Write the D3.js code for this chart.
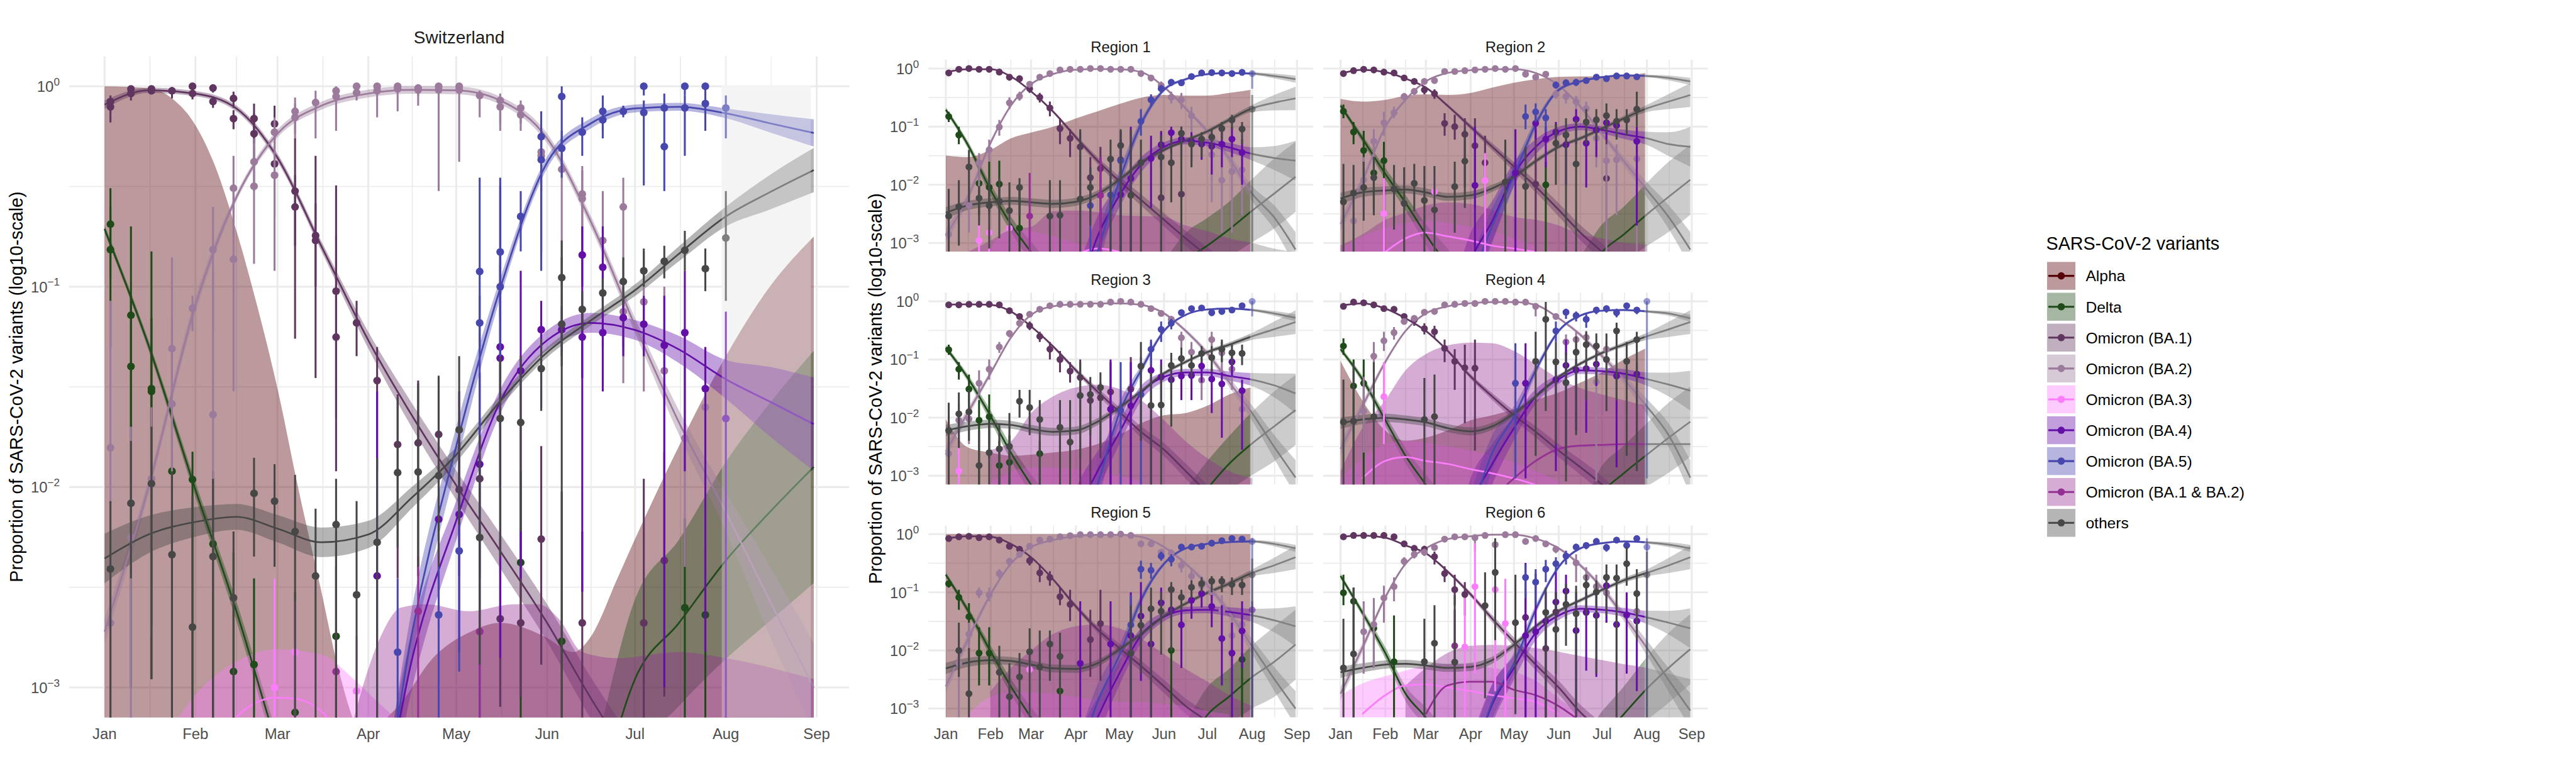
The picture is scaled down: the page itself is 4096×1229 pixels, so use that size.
<!DOCTYPE html>
<html><head><meta charset="utf-8">
<script src="https://cdn.jsdelivr.net/npm/d3@7"></script>
<style>body{margin:0;background:#fff}svg{display:block}text{font-family:"Liberation Sans",Arial,Helvetica,sans-serif}</style>
</head><body>
<script>
// ---------------- categories / axes ----------------
const variants = ["Alpha","Delta","Omicron (BA.1)","Omicron (BA.2)","Omicron (BA.3)","Omicron (BA.4)","Omicron (BA.5)","Omicron (BA.1 & BA.2)","others"];
const variantKeys = ["alpha","delta","ba1","ba2","ba3","ba4","ba5","ba12","others"];
const variantColors = ["#580008","#1f4a1a","#603660","#9c7a9c","#fb7dfb","#6410a8","#4747ae","#943094","#474747"];
const futureColor = "#808080";
const panelIds = ["CH","R1","R2","R3","R4","R5","R6"];
const panelTitles = ["Switzerland","Region 1","Region 2","Region 3","Region 4","Region 5","Region 6"];
const xTickDays = [0,31,59,90,120,151,181,212,243];
const xTickLabels = ["Jan","Feb","Mar","Apr","May","Jun","Jul","Aug","Sep"];
const xMinorDays = [15.5,45,74.5,105,135.5,166,196.5,227.5];
const yTickExps = [0,-1,-2,-3];
const yTickLabels = ["0","\u22121","\u22122","\u22123"];
const yMinorExps = [-0.5,-1.5,-2.5];
const fitDays = [0,15,31,45,59,74,90,105,120,135,151,166,181,196,212,227,242];
const firstWeekDay = 2;   // week index 0 = 3 Jan 2022
const futureDays = [210.6,241];
const yAxisTitle = "Proportion of SARS-CoV-2 variants (log10-scale)";
const legendTitle = "SARS-CoV-2 variants";

// ---------------- Switzerland ----------------
const fit_CH_ba1 = [0.81,0.955,0.919,0.775,0.44,0.159,0.054,0.0226,0.0102,0.0048,0.0021,0.00088,0.0004,0.00018,0.00008,0.00004,0.00002];
const fit_CH_ba2 = [0.0019,0.010,0.081,0.28,0.58,0.80,0.92,0.96,0.955,0.85,0.55,0.21,0.064,0.021,0.0075,0.0027,0.001];
const fit_CH_ba5 = [0.00001,0.00001,0.00001,0.00001,0.00001,0.00001,0.00008,0.0019,0.016,0.098,0.416,0.654,0.775,0.79,0.733,0.654,0.585];
const fit_CH_ba4 = [0.00001,0.00001,0.00001,0.00001,0.00001,0.00001,0.0001,0.0014,0.0068,0.0267,0.054,0.066,0.0608,0.0486,0.0345,0.0267,0.0206];
const fit_CH_others = [0.0044,0.0058,0.0067,0.0071,0.0062,0.0053,0.0058,0.0089,0.0145,0.0268,0.047,0.068,0.096,0.146,0.224,0.296,0.382];
const fit_CH_delta = [0.194,0.051,0.0097,0.0024,0.0005,0.0001,0.00003,0.00003,0.00003,0.00003,0.00003,0.0002,0.0011,0.0021,0.0043,0.0075,0.0126];
const band_CH_ba1 = [1.05,1.03,1.03,1.035,1.046,1.058,1.1,1.15,1.185,1.22,1.24,1.27,1.3,1.3,1.3,1.3,1.3];
const band_CH_ba2 = [1.15,1.09,1.09,1.046,1.046,1.046,1.046,1.046,1.046,1.046,1.058,1.07,1.09,1.15,1.25,1.49,1.66];
const band_CH_ba5 = [1.3,1.3,1.3,1.3,1.3,1.3,1.33,1.33,1.25,1.12,1.07,1.06,1.046,1.046,1.058,1.11,1.17];
const band_CH_ba4 = [1.4,1.4,1.4,1.4,1.4,1.4,1.4,1.4,1.25,1.15,1.12,1.12,1.12,1.17,1.25,1.49,1.71];
const band_CH_others = [1.33,1.24,1.185,1.16,1.17,1.185,1.17,1.13,1.09,1.07,1.06,1.06,1.07,1.09,1.12,1.22,1.29];
const band_CH_delta = [1.046,1.058,1.09,1.12,1.15,1.2,1.5,2,2,2,2,2,2.5,2.6,3.1,3.5,3.8];
const rib_CH_alpha = [[0,1.0],[15,0.98],[23,0.87],[31,0.64],[38,0.39],[45,0.19],[52,0.081],[59,0.031],[66,0.010],[74,0.003],[80,0.0012],[88,0.0006],[100,0.0008],[112,0.0014],[125,0.0019],[135,0.0021],[150,0.0018],[160,0.0015],[166,0.0018],[175,0.0035],[181,0.0055],[196,0.016],[212,0.045],[227,0.10],[242,0.178]];
const rib_CH_ba3 = [[22,0.0006],[31,0.00092],[45,0.00135],[59,0.00155],[74,0.00146],[85,0.0011],[95,0.0008],[105,0.0006]];
const rib_CH_ba12 = [[80,0.0005],[85,0.0007],[88,0.001],[95,0.0019],[101,0.0025],[110,0.0026],[124,0.0024],[140,0.0026],[148,0.0026],[155,0.0022],[163,0.0015],[175,0.0014],[196,0.0015],[212,0.0014],[242,0.0011]];
const line_CH_ba3 = [[40,0.0006],[51,0.00083],[58,0.00089],[65,0.00088],[72,0.0008],[80,0.0006],[90,0.0003]];
const line_CH_ba12 = [];
const pts_CH_ba1 = [[0,0.84,0.74,0.90],[0,0.79,0.66,0.86],[1,0.97,0.93,1],[1,0.92,0.85,0.96],[2,0.97,0.94,1],[2,0.95,0.92,0.98],[3,0.95,0.87,0.99],[4,1,0.93,1],[4,0.92,0.86,0.96],[5,0.98,0.93,1],[5,0.84,0.78,0.89],[6,0.87,0.78,0.94],[6,0.69,0.61,0.76],[7,0.69,0.52,0.82],[7,0.58,0.4,0.73],[8,0.65,0.45,0.8],[8,0.41,0.22,0.6],[9,0.3,0.055,0.55],[9,0.25,0.16,0.36],[10,0.18,0.035,0.45],[10,0.17,0.1,0.26],[11,0.095,0.022,0.32],[11,0.056,0.012,0.18],[12,0.066,0.045,0.085],[13,0.034,0.012,0.05],[14,0.0163,0.0035,0.029],[15,0.0166,0.0036,0.034],[16,0.0183,0.0023,0.035],[17,0.0097,0.0036,0.02],[18,0.011,0.003,0.018],[19,0.0022,0.0008,0.0055],[20,0.0021,0.0009,0.006],[21,0.0055,0.0013,0.016],[23,0.0021,0.0007,0.006],[26,0.0021,0.0007,0.011],[27,0.0043,0.0009,0.015]];
const pts_CH_ba2 = [[0,0.0157,0.0006,0.085],[0,0.0021,0.0006,0.0045],[1,0.0056,0.0007,0.02],[2,0.011,0.0018,0.025],[3,0.049,0.008,0.14],[3,0.026,0.004,0.07],[4,0.078,0.06,0.09],[5,0.153,0.06,0.25],[5,0.023,0.003,0.12],[6,0.31,0.18,0.45],[6,0.137,0.03,0.3],[7,0.42,0.3,0.55],[7,0.317,0.13,0.5],[8,0.59,0.5,0.7],[8,0.36,0.12,0.55],[9,0.75,0.58,0.88],[9,0.70,0.55,0.82],[10,0.83,0.55,0.95],[11,0.95,0.9,1],[11,0.89,0.6,0.97],[12,1,0.95,1],[12,0.93,0.85,0.98],[13,1,0.95,1],[13,0.95,0.7,0.99],[14,1,0.97,1],[14,0.97,0.75,1],[15,0.98,0.9,1],[15,0.96,0.8,0.99],[16,1,0.97,1],[16,0.96,0.3,1],[17,1,0.96,1],[17,0.96,0.42,1],[18,0.9,0.7,0.95],[19,0.85,0.65,0.92],[19,0.79,0.6,0.88],[20,0.78,0.65,0.85],[20,0.72,0.6,0.8],[21,0.47,0.14,0.6],[21,0.45,0.15,0.6],[22,0.385,0.1,0.55],[23,0.29,0.1,0.4],[23,0.275,0.1,0.38],[24,0.17,0.08,0.3],[25,0.25,0.033,0.35],[25,0.075,0.05,0.1],[26,0.084,0.03,0.15],[27,0.038,0.009,0.1],[28,0.0175,0.004,0.06],[29,0.025,0.01,0.05]];
const pts_CH_ba5 = [[14,0.0015,0.0007,0.0035],[16,0.0023,0.0007,0.005],[17,0.0048,0.0012,0.012],[18,0.119,0.05,0.35],[18,0.066,0.0007,0.09],[19,0.149,0.02,0.35],[19,0.1,0.07,0.13],[20,0.224,0.15,0.3],[21,0.56,0.12,0.75],[21,0.43,0.3,0.55],[22,0.89,0.5,1],[22,0.49,0.35,0.6],[23,0.59,0.45,0.7],[24,0.75,0.55,0.9],[24,0.68,0.6,0.75],[25,0.75,0.7,0.8],[26,1,0.9,1],[26,0.74,0.32,0.85],[27,0.78,0.6,0.92],[27,0.5,0.3,0.6],[28,1,0.9,1],[28,0.78,0.45,0.9],[29,1,0.9,1],[29,0.82,0.6,0.92],[30,0.78,0.55,0.9]];
const pts_CH_ba4 = [[13,0.0036,0.0007,0.03],[16,0.0069,0.002,0.035],[17,0.0073,0.0015,0.03],[18,0.013,0.0035,0.037],[19,0.05,0.0014,0.32],[19,0.044,0.01,0.15],[20,0.038,0.0035,0.12],[21,0.061,0.025,0.085],[22,0.061,0.045,0.08],[23,0.144,0.003,0.2],[23,0.056,0.035,0.08],[24,0.125,0.05,0.2],[24,0.059,0.03,0.12],[25,0.07,0.045,0.09],[26,0.065,0.045,0.09],[27,0.051,0.001,0.09],[28,0.059,0.012,0.12],[29,0.031,0.0015,0.05],[30,0.022,0.0007,0.075]];
const pts_CH_others = [[0,0.0039,0.0007,0.0085],[1,0.0083,0.0035,0.017],[2,0.0104,0.0011,0.02],[3,0.0046,0.0007,0.012],[4,0.002,0.0007,0.009],[5,0.0045,0.0007,0.011],[6,0.0028,0.0007,0.006],[7,0.0093,0.0045,0.014],[8,0.0085,0.004,0.013],[9,0.006,0.0007,0.0115],[10,0.0036,0.0007,0.0078],[11,0.0065,0.0007,0.011],[12,0.0029,0.0007,0.0085],[13,0.0053,0.0007,0.014],[14,0.0118,0.005,0.028],[15,0.0119,0.004,0.033],[16,0.0114,0.004,0.036],[17,0.0193,0.0065,0.045],[18,0.0056,0.0013,0.018],[19,0.022,0.0045,0.045],[20,0.021,0.006,0.045],[21,0.039,0.024,0.055],[22,0.111,0.04,0.17],[22,0.065,0.0007,0.14],[23,0.077,0.06,0.095],[24,0.093,0.075,0.11],[25,0.106,0.08,0.14],[26,0.12,0.1,0.155],[27,0.134,0.11,0.16],[28,0.152,0.12,0.19],[29,0.123,0.095,0.155],[30,0.175,0.085,0.3]];
const pts_CH_delta = [[0,0.205,0.11,0.31],[0,0.153,0.05,0.25],[1,0.072,0.02,0.2],[1,0.04,0.001,0.09],[2,0.031,0.0011,0.15],[2,0.03,0.002,0.07],[3,0.012,0.0007,0.05],[4,0.0109,0.0007,0.015],[5,0.0052,0.0007,0.012],[6,0.0012,0.0007,0.0047],[7,0.0013,0.0007,0.0035],[9,0.00075,0.0007,0.003],[11,0.0018,0.0007,0.004],[20,0.0042,0.0007,0.012],[22,0.0017,0.0007,0.0095],[28,0.0025,0.0007,0.007],[29,0.0023,0.0007,0.005]];
const pts_CH_ba3 = [[8,0.001,0.0007,0.0035],[9,0.0015,0.0007,0.0027],[12,0.00096,0.0007,0.0018]];
const pts_CH_ba12 = [[11,0.0012,0.0007,0.006],[15,0.0024,0.0007,0.0045],[18,0.0019,0.0007,0.003]];

// ---------------- shared regional band widths (multiplicative) ----------------
const band_REG_ba1 = [1.03,1.02,1.02,1.03,1.04,1.06,1.1,1.15,1.2,1.25,1.3,1.35,1.4,1.45,1.5,1.5,1.5];
const band_REG_ba2 = [1.3,1.2,1.1,1.05,1.03,1.02,1.02,1.02,1.02,1.03,1.05,1.08,1.12,1.2,1.35,1.6,2];
const band_REG_ba5 = [3,3,3,3,3,3,2.5,2,1.5,1.2,1.08,1.05,1.04,1.04,1.05,1.1,1.15];
const band_REG_ba4 = [3,3,3,3,3,3,3,2.2,1.6,1.35,1.2,1.15,1.15,1.2,1.3,1.6,2.2];
const band_REG_others = [1.25,1.2,1.18,1.17,1.17,1.17,1.17,1.15,1.12,1.1,1.08,1.08,1.08,1.1,1.15,1.35,1.6];
const band_REG_delta = [1.1,1.15,1.25,1.35,1.5,2,2,2,2,2,2.5,3,3,3,3.5,4,4];

// ---------------- Region 1 ----------------
const fit_R1_ba1 = [0.87,0.97,0.97,0.73,0.405,0.184,0.066,0.026,0.0116,0.0055,0.0025,0.0012,0.0006,0.0003,0.00015,0.0001,0.00007];
const fit_R1_ba2 = [0.00135,0.0059,0.053,0.23,0.54,0.80,0.955,0.98,0.97,0.87,0.48,0.206,0.083,0.0285,0.0070,0.0028,0.00077];
const fit_R1_ba5 = [0.00001,0.00001,0.00001,0.00001,0.00001,0.00001,0.00004,0.0007,0.0116,0.11,0.43,0.655,0.80,0.835,0.82,0.745,0.655];
const fit_R1_ba4 = [0.00001,0.00001,0.00001,0.00001,0.00001,0.00001,0.0001,0.0013,0.0065,0.022,0.045,0.057,0.053,0.044,0.034,0.029,0.026];
const fit_R1_others = [0.0033,0.0044,0.0050,0.0053,0.005,0.0047,0.0051,0.0069,0.0122,0.024,0.040,0.058,0.083,0.131,0.206,0.258,0.306];
const fit_R1_delta = [0.195,0.05,0.0082,0.0021,0.00069,0.0002,0.0001,0.0001,0.0001,0.0001,0.0002,0.0005,0.0009,0.0017,0.0036,0.007,0.0137];
const rib_R1_alpha = [[0,0.032],[15,0.030],[31,0.040],[45,0.063],[59,0.079],[74,0.099],[90,0.139],[105,0.184],[120,0.244],[135,0.314],[151,0.35],[166,0.342],[181,0.342],[196,0.38],[211,0.43]];
const rib_R1_ba12 = [[15,0.0007],[31,0.0011],[45,0.0017],[59,0.0019],[74,0.0035],[90,0.0036],[105,0.0034],[120,0.003],[135,0.0029],[151,0.0028],[166,0.002],[181,0.0016],[196,0.0012],[212,0.001],[227,0.0008],[242,0.0007]];
const rib_R1_ba3 = [[31,0.0008],[45,0.0018],[59,0.0016],[74,0.0013],[90,0.001],[105,0.0008],[120,0.0007]];
const line_R1_ba3 = [[85,0.0005],[95,0.0007],[105,0.0008],[120,0.0007],[135,0.0005]];
const line_R1_ba12 = [];
const pts_R1_ba1 = [[0,0.84,0.78,0.9],[1,0.97,0.92,1],[2,1,0.95,1],[3,0.97,0.92,1],[4,0.97,0.92,1],[5,0.87,0.8,0.93],[6,0.71,0.62,0.8],[7,0.67,0.58,0.76],[8,0.45,0.38,0.52],[9,0.32,0.26,0.38],[10,0.21,0.15,0.27],[11,0.093,0.05,0.14],[12,0.063,0.03,0.09],[13,0.045,0.0007,0.08],[14,0.0133,0.004,0.03],[15,0.019,0.0007,0.045],[17,0.027,0.005,0.085],[21,0.006,0.0007,0.085],[23,0.0069,0.0007,0.05]];
const pts_R1_ba2 = [[0,0.0014,0.0007,0.0035],[2,0.0045,0.0015,0.012],[3,0.024,0.008,0.035],[4,0.04,0.025,0.06],[5,0.099,0.07,0.13],[6,0.258,0.2,0.32],[7,0.333,0.28,0.4],[8,0.537,0.47,0.6],[9,0.71,0.65,0.78],[10,0.82,0.76,0.88],[11,0.945,0.9,1],[12,0.97,0.93,1],[13,0.97,0.93,1],[14,1,0.95,1],[15,1,0.95,1],[16,0.97,0.93,1],[17,0.97,0.93,1],[18,0.97,0.93,1],[19,0.82,0.75,0.9],[20,0.69,0.6,0.78],[21,0.51,0.42,0.6],[22,0.32,0.25,0.4],[23,0.29,0.2,0.38],[24,0.155,0.07,0.22],[26,0.033,0.005,0.06],[27,0.012,0.0015,0.03],[28,0.017,0.0015,0.03],[29,0.018,0.003,0.03]];
const pts_R1_ba5 = [[14,0.0044,0.0007,0.02],[16,0.0067,0.0007,0.03],[17,0.026,0.0007,0.06],[19,0.124,0.07,0.2],[20,0.29,0.22,0.36],[21,0.45,0.38,0.52],[22,0.58,0.5,0.65],[23,0.57,0.5,0.64],[24,0.73,0.65,0.8],[25,0.84,0.78,0.9],[26,0.85,0.8,0.9],[27,0.84,0.78,0.9],[28,0.82,0.76,0.88],[29,0.86,0.8,0.92],[30,0.82,0.45,0.9]];
const pts_R1_ba4 = [[15,0.0066,0.0007,0.03],[17,0.0068,0.0007,0.06],[18,0.0129,0.0007,0.1],[20,0.0285,0.004,0.07],[21,0.049,0.02,0.08],[22,0.079,0.035,0.1],[23,0.061,0.03,0.1],[24,0.056,0.025,0.08],[25,0.05,0.027,0.07],[26,0.046,0.015,0.07],[27,0.05,0.02,0.08],[28,0.061,0.03,0.1],[29,0.036,0.01,0.06]];
const pts_R1_others = [[0,0.0029,0.0007,0.0085],[1,0.0042,0.0009,0.012],[2,0.0203,0.005,0.04],[3,0.0059,0.002,0.0095],[4,0.0044,0.0008,0.013],[5,0.0052,0.0012,0.013],[6,0.0036,0.0007,0.011],[7,0.009,0.003,0.013],[10,0.0029,0.0007,0.012],[11,0.003,0.0007,0.012],[13,0.0057,0.0007,0.09],[14,0.009,0.002,0.02],[16,0.0277,0.0007,0.06],[17,0.0475,0.0007,0.09],[18,0.0066,0.0007,0.09],[19,0.024,0.0007,0.06],[21,0.03,0.0007,0.07],[22,0.024,0.005,0.065],[23,0.077,0.0007,0.1],[24,0.05,0.02,0.07],[25,0.061,0.03,0.08],[26,0.066,0.04,0.09],[27,0.093,0.06,0.12],[28,0.131,0.09,0.16],[29,0.091,0.05,0.12],[30,0.2,0.0007,0.35]];
const pts_R1_delta = [[0,0.15,0.12,0.18],[1,0.072,0.05,0.1],[3,0.0106,0.003,0.02],[4,0.0091,0.003,0.025],[5,0.0103,0.004,0.026],[7,0.0018,0.0007,0.009]];
const pts_R1_ba3 = [[3,0.0011,0.0007,0.0023],[4,0.0015,0.0007,0.0035],[6,0.0018,0.0007,0.0035]];
const pts_R1_ba12 = [[8,0.0029,0.0007,0.016],[15,0.0066,0.0007,0.03]];

// ---------------- Region 2 ----------------
const fit_R2_ba1 = [0.82,0.945,0.87,0.67,0.47,0.23,0.099,0.045,0.0205,0.0093,0.0037,0.0015,0.0007,0.0003,0.00015,0.0001,0.00007];
const fit_R2_ba2 = [0.0021,0.0116,0.099,0.29,0.60,0.84,0.935,0.97,0.97,0.84,0.51,0.22,0.074,0.0255,0.0082,0.0028,0.00077];
const fit_R2_ba5 = [0.00001,0.00001,0.00001,0.00001,0.00001,0.00001,0.0002,0.002,0.0144,0.11,0.43,0.60,0.71,0.76,0.745,0.69,0.60];
const fit_R2_ba4 = [0.00001,0.00001,0.00001,0.00001,0.00001,0.00003,0.0005,0.0024,0.0154,0.045,0.083,0.10,0.088,0.074,0.063,0.05,0.045];
const fit_R2_others = [0.0058,0.0074,0.0080,0.0083,0.0074,0.0062,0.0066,0.0087,0.0137,0.0255,0.045,0.063,0.093,0.139,0.206,0.27,0.35];
const fit_R2_delta = [0.23,0.063,0.0154,0.0049,0.0014,0.0004,0.0001,0.0001,0.0001,0.0001,0.0001,0.0002,0.0007,0.0014,0.0031,0.0062,0.0122];
const rib_R2_alpha = [[0,0.30],[15,0.27],[31,0.29],[45,0.34],[59,0.36],[74,0.35],[90,0.38],[105,0.47],[120,0.57],[135,0.655],[151,0.72],[166,0.73],[181,0.73],[196,0.745],[211,0.84]];
const rib_R2_ba12 = [[0,0.0009],[15,0.0014],[31,0.0025],[45,0.0033],[59,0.0044],[74,0.005],[90,0.0047],[105,0.0037],[120,0.0028],[135,0.0025],[151,0.002],[166,0.0014],[181,0.0012],[196,0.001],[212,0.00095]];
const rib_R2_ba3 = [[0,0.0008],[15,0.0013],[31,0.0018],[45,0.0022],[59,0.0024],[74,0.0022],[90,0.0019],[105,0.0016],[120,0.0012],[135,0.0009]];
const line_R2_ba3 = [[31,0.0007],[45,0.0012],[59,0.0015],[74,0.0013],[90,0.0011],[105,0.0009],[120,0.0008],[135,0.0007]];
const line_R2_ba12 = [];
const pts_R2_ba1 = [[0,0.82,0.76,0.88],[1,0.92,0.87,0.97],[2,0.97,0.92,1],[3,0.945,0.9,0.99],[4,0.87,0.82,0.92],[5,0.84,0.79,0.9],[6,0.69,0.63,0.75],[7,0.6,0.53,0.67],[8,0.43,0.36,0.5],[9,0.37,0.3,0.44],[10,0.114,0.07,0.17],[11,0.1,0.06,0.16],[12,0.074,0.009,0.14],[13,0.047,0.004,0.14],[14,0.024,0.0007,0.07],[19,0.0103,0.0007,0.09],[26,0.0129,0.0007,0.085]];
const pts_R2_ba2 = [[1,0.0024,0.0007,0.004],[2,0.0122,0.004,0.03],[3,0.056,0.03,0.09],[4,0.117,0.07,0.18],[5,0.174,0.14,0.22],[6,0.33,0.28,0.38],[7,0.405,0.35,0.46],[8,0.6,0.54,0.66],[9,0.62,0.56,0.7],[10,0.89,0.84,0.95],[11,0.89,0.84,0.95],[12,0.92,0.87,0.97],[13,0.945,0.9,0.99],[14,0.97,0.92,1],[15,1,0.95,1],[16,0.97,0.92,1],[17,1,0.95,1],[18,0.8,0.74,0.86],[19,0.71,0.64,0.78],[20,0.8,0.74,0.86],[21,0.36,0.3,0.43],[22,0.33,0.25,0.4],[23,0.27,0.2,0.34],[24,0.206,0.15,0.27],[25,0.063,0.02,0.1],[26,0.026,0.0007,0.05],[27,0.027,0.003,0.05],[29,0.028,0.0007,0.06]];
const pts_R2_ba5 = [[18,0.15,0.09,0.24],[19,0.18,0.12,0.25],[20,0.142,0.08,0.2],[21,0.52,0.45,0.6],[22,0.57,0.5,0.64],[23,0.58,0.5,0.66],[24,0.62,0.55,0.68],[25,0.71,0.65,0.77],[26,0.67,0.6,0.73],[27,0.745,0.7,0.8],[28,0.745,0.7,0.8],[29,0.72,0.65,0.78]];
const pts_R2_ba4 = [[13,0.0098,0.0007,0.1],[17,0.016,0.0007,0.09],[19,0.114,0.06,0.2],[20,0.061,0.02,0.1],[21,0.081,0.045,0.12],[22,0.049,0.01,0.08],[23,0.134,0.05,0.2],[24,0.052,0.009,0.09],[25,0.088,0.03,0.13],[26,0.117,0.06,0.17],[27,0.105,0.07,0.15],[29,0.056,0.002,0.1]];
const pts_R2_others = [[0,0.0051,0.0007,0.023],[1,0.0072,0.0007,0.022],[2,0.009,0.0024,0.025],[3,0.0133,0.003,0.03],[5,0.0085,0.0017,0.022],[6,0.0048,0.0007,0.02],[7,0.0106,0.0035,0.023],[8,0.0054,0.0007,0.021],[9,0.0037,0.0007,0.021],[11,0.0093,0.0015,0.025],[12,0.0255,0.004,0.09],[16,0.0112,0.0007,0.06],[18,0.0094,0.0007,0.045],[21,0.052,0.01,0.11],[22,0.072,0.0007,0.14],[23,0.0228,0.0007,0.13],[24,0.12,0.05,0.2],[25,0.131,0.06,0.2],[26,0.155,0.08,0.25],[27,0.124,0.06,0.2],[28,0.131,0.07,0.2],[29,0.2,0.1,0.4]];
const pts_R2_delta = [[0,0.184,0.14,0.24],[1,0.081,0.05,0.12],[2,0.039,0.014,0.085],[3,0.016,0.004,0.05],[4,0.026,0.0007,0.055],[20,0.01,0.0007,0.025]];
const pts_R2_ba3 = [[4,0.0032,0.0007,0.013],[9,0.0076,0.0007,0.016],[14,0.0119,0.0007,0.035]];
const pts_R2_ba12 = [];

// ---------------- Region 3 ----------------
const fit_R3_ba1 = [0.87,0.89,0.87,0.67,0.37,0.17,0.065,0.028,0.0126,0.0057,0.0028,0.0012,0.0005,0.0002,0.0001,0.00007,0.00005];
const fit_R3_ba2 = [0.0026,0.0119,0.058,0.237,0.585,0.82,0.89,0.92,0.92,0.87,0.62,0.31,0.127,0.041,0.0119,0.0032,0.00093];
const fit_R3_ba5 = [0.00001,0.00001,0.00001,0.00001,0.00001,0.00001,0.00005,0.0007,0.0119,0.065,0.31,0.585,0.725,0.75,0.71,0.62,0.52];
const fit_R3_ba4 = [0.00001,0.00001,0.00001,0.00001,0.00001,0.00001,0.0002,0.0012,0.0055,0.026,0.05,0.06,0.06,0.052,0.045,0.036,0.026];
const fit_R3_others = [0.006,0.0071,0.0078,0.0075,0.0064,0.0057,0.006,0.0085,0.0149,0.028,0.058,0.091,0.134,0.179,0.25,0.33,0.44];
const fit_R3_delta = [0.16,0.049,0.0106,0.0025,0.0007,0.0002,0.0001,0.0001,0.0001,0.0001,0.0001,0.0002,0.0006,0.0016,0.0036,0.007,0.0135];
const rib_R3_alpha = [[0,0.0093],[15,0.0031],[31,0.0025],[45,0.0022],[59,0.0023],[74,0.0025],[90,0.0028],[105,0.0035],[120,0.005],[135,0.008],[151,0.011],[166,0.012],[181,0.016],[196,0.025],[211,0.033]];
const rib_R3_ba12 = [[31,0.0028],[45,0.0039],[59,0.0119],[74,0.023],[90,0.033],[105,0.037],[120,0.031],[135,0.020],[151,0.009],[166,0.0039],[181,0.002],[196,0.0012],[212,0.0009]];
const rib_R3_ba3 = [[31,0.0008],[59,0.0014],[90,0.0013],[120,0.001],[135,0.0008]];
const line_R3_ba3 = [];
const line_R3_ba12 = [];
const pts_R3_ba1 = [[0,0.87,0.82,0.92],[1,0.87,0.82,0.92],[2,0.89,0.84,0.94],[3,0.89,0.84,0.94],[4,0.89,0.84,0.94],[5,0.87,0.8,0.92],[6,0.69,0.62,0.76],[7,0.55,0.48,0.62],[8,0.38,0.32,0.45],[9,0.25,0.2,0.3],[10,0.15,0.1,0.2],[11,0.1,0.06,0.14],[12,0.063,0.04,0.09],[13,0.049,0.0007,0.1],[14,0.0197,0.0007,0.035],[15,0.022,0.002,0.04],[16,0.0276,0.0007,0.09],[18,0.031,0.0007,0.11]];
const pts_R3_ba2 = [[0,0.0024,0.0007,0.012],[1,0.009,0.003,0.017],[2,0.0095,0.0035,0.016],[3,0.039,0.025,0.065],[4,0.068,0.045,0.1],[5,0.164,0.13,0.2],[6,0.28,0.24,0.32],[7,0.42,0.37,0.47],[8,0.6,0.55,0.66],[9,0.73,0.68,0.78],[10,0.84,0.8,0.88],[11,0.89,0.85,0.93],[12,0.89,0.85,0.93],[13,0.89,0.85,0.93],[14,0.89,0.85,0.93],[15,0.89,0.85,0.93],[16,0.97,0.93,1],[17,1,0.95,1],[18,0.97,0.93,1],[19,0.89,0.85,0.93],[20,0.75,0.7,0.8],[21,0.62,0.55,0.68],[22,0.49,0.42,0.56],[23,0.237,0.15,0.3],[24,0.134,0.08,0.2],[25,0.044,0.02,0.1],[26,0.22,0.12,0.3],[27,0.13,0.06,0.2],[28,0.068,0.03,0.1],[29,0.014,0.003,0.03]];
const pts_R3_ba5 = [[17,0.0133,0.0007,0.09],[19,0.025,0.0007,0.11],[20,0.15,0.08,0.22],[21,0.33,0.2,0.45],[22,0.42,0.33,0.5],[23,0.64,0.58,0.7],[24,0.75,0.7,0.8],[25,0.77,0.72,0.82],[26,0.64,0.56,0.7],[27,0.67,0.6,0.74],[28,0.71,0.65,0.77],[29,0.84,0.78,0.9],[30,1,0.55,1]];
const pts_R3_ba4 = [[16,0.014,0.0007,0.1],[18,0.016,0.0007,0.09],[20,0.065,0.0007,0.2],[21,0.05,0.015,0.1],[22,0.045,0.02,0.065],[23,0.052,0.02,0.07],[24,0.053,0.02,0.08],[25,0.077,0.04,0.11],[26,0.046,0.012,0.07],[27,0.038,0.0045,0.06],[28,0.091,0.05,0.13],[29,0.029,0.0028,0.045]];
const pts_R3_others = [[0,0.006,0.0007,0.018],[1,0.0116,0.003,0.027],[2,0.0126,0.004,0.03],[3,0.0015,0.0007,0.006],[4,0.0025,0.0007,0.008],[5,0.0029,0.0007,0.008],[6,0.0032,0.0007,0.012],[7,0.0191,0.01,0.03],[8,0.0149,0.005,0.03],[9,0.0093,0.0007,0.02],[11,0.0068,0.0007,0.02],[12,0.0038,0.0007,0.02],[13,0.024,0.002,0.09],[14,0.025,0.005,0.05],[15,0.033,0.003,0.06],[19,0.077,0.004,0.2],[20,0.0162,0.0007,0.06],[21,0.0165,0.0007,0.08],[22,0.079,0.007,0.13],[23,0.104,0.06,0.16],[24,0.079,0.05,0.12],[25,0.127,0.09,0.17],[26,0.108,0.06,0.17],[27,0.15,0.09,0.22],[28,0.13,0.08,0.18],[29,0.127,0.08,0.18]];
const pts_R3_delta = [[0,0.147,0.12,0.18],[1,0.068,0.045,0.09],[2,0.031,0.012,0.055],[3,0.009,0.0007,0.02],[4,0.0104,0.002,0.025],[5,0.0015,0.0007,0.004],[6,0.0017,0.0007,0.005],[9,0.0024,0.0007,0.004]];
const pts_R3_ba3 = [[1,0.0012,0.0007,0.005]];
const pts_R3_ba12 = [];

// ---------------- Region 4 ----------------
const fit_R4_ba1 = [0.84,0.92,0.75,0.51,0.31,0.142,0.051,0.023,0.011,0.0057,0.0027,0.0014,0.0007,0.0003,0.00015,0.0001,0.00007];
const fit_R4_ba2 = [0.0029,0.0155,0.091,0.31,0.62,0.82,0.93,0.97,0.97,0.87,0.51,0.265,0.114,0.046,0.0155,0.005,0.00093];
const fit_R4_ba5 = [0.00001,0.00001,0.00001,0.00001,0.00001,0.00001,0.0002,0.0025,0.0104,0.065,0.31,0.57,0.69,0.71,0.67,0.62,0.51];
const fit_R4_ba4 = [0.00001,0.00001,0.00001,0.00001,0.00001,0.00001,0.0003,0.0016,0.0066,0.023,0.046,0.065,0.063,0.057,0.046,0.037,0.029];
const fit_R4_others = [0.008,0.0093,0.0099,0.0093,0.0083,0.0066,0.0058,0.0071,0.0118,0.023,0.05,0.085,0.13,0.18,0.25,0.33,0.44];
const fit_R4_delta = [0.15,0.046,0.009,0.0022,0.0007,0.0002,0.0001,0.0001,0.0001,0.0001,0.0001,0.0001,0.0005,0.0011,0.0023,0.0045,0.0085];
const rib_R4_alpha = [[0,0.094],[15,0.02],[31,0.006],[45,0.004],[59,0.0045],[74,0.006],[90,0.009],[105,0.011],[120,0.014],[135,0.02],[151,0.027],[166,0.04],[181,0.06],[196,0.1],[211,0.155]];
const rib_R4_ba12 = [[0,0.0012],[15,0.0066],[31,0.020],[45,0.065],[59,0.124],[74,0.174],[90,0.195],[105,0.19],[120,0.14],[135,0.083],[151,0.047],[166,0.032],[181,0.025],[196,0.02],[212,0.016]];
const rib_R4_ba3 = [[0,0.0009],[15,0.002],[31,0.0035],[45,0.004],[59,0.0037],[74,0.0032],[90,0.0027],[105,0.0022],[120,0.0017],[135,0.0012],[151,0.0008]];
const line_R4_ba3 = [[15,0.0009],[31,0.0018],[45,0.0021],[59,0.0018],[74,0.0016],[90,0.0013],[105,0.0011],[120,0.0009],[135,0.0007]];
const line_R4_ba12 = [[115,0.0007],[135,0.0018],[151,0.0029],[166,0.0033],[181,0.0034],[196,0.0035],[212,0.0035],[242,0.0035]];
const pts_R4_ba1 = [[0,0.82,0.76,0.88],[1,0.97,0.93,1],[2,0.945,0.9,0.99],[3,0.87,0.82,0.92],[4,0.75,0.69,0.81],[5,0.73,0.66,0.8],[6,0.55,0.48,0.62],[7,0.48,0.38,0.56],[8,0.34,0.27,0.42],[9,0.3,0.23,0.38],[10,0.155,0.09,0.22],[11,0.093,0.03,0.15],[12,0.072,0.008,0.18],[13,0.071,0.0027,0.22]];
const pts_R4_ba2 = [[2,0.0129,0.0025,0.05],[3,0.114,0.06,0.2],[4,0.21,0.14,0.3],[5,0.29,0.22,0.36],[6,0.45,0.4,0.5],[7,0.51,0.45,0.57],[8,0.65,0.6,0.7],[9,0.67,0.62,0.72],[10,0.87,0.83,0.91],[11,0.89,0.85,0.93],[12,0.92,0.88,0.96],[13,0.92,0.8,0.96],[14,1,0.95,1],[15,1,0.95,1],[16,1,0.95,1],[17,0.97,0.93,1],[18,0.97,0.93,1],[19,0.82,0.55,0.88],[21,0.55,0.48,0.62],[22,0.2,0.12,0.27],[23,0.22,0.15,0.3],[24,0.24,0.17,0.31],[25,0.041,0.0008,0.13],[26,0.15,0.07,0.2]];
const pts_R4_ba5 = [[17,0.039,0.0009,0.19],[21,0.31,0.2,0.45],[22,0.65,0.5,0.75],[23,0.57,0.45,0.67],[24,0.49,0.35,0.6],[25,0.71,0.6,0.8],[26,0.75,0.64,0.85],[27,0.64,0.53,0.75],[28,0.84,0.72,0.93],[29,0.71,0.6,0.8],[30,1,0.0009,1]];
const pts_R4_ba4 = [[18,0.039,0.0009,0.19],[21,0.045,0.0012,0.1],[22,0.079,0.0015,0.22],[23,0.066,0.006,0.1],[24,0.07,0.0055,0.1],[25,0.083,0.035,0.13],[27,0.052,0.0014,0.13],[29,0.056,0.0017,0.09]];
const pts_R4_others = [[0,0.0084,0.0007,0.045],[1,0.0087,0.0007,0.09],[3,0.0104,0.0007,0.09],[8,0.0093,0.0007,0.048],[9,0.0104,0.0007,0.055],[19,0.093,0.0022,0.3],[20,0.49,0.013,0.98],[21,0.091,0.0035,0.2],[22,0.04,0.0008,0.13],[23,0.134,0.005,0.25],[24,0.18,0.02,0.3],[25,0.17,0.04,0.28],[26,0.1,0.013,0.28],[27,0.31,0.02,0.43],[28,0.093,0.0022,0.2],[29,0.22,0.0012,0.3]];
const pts_R4_delta = [[0,0.17,0.12,0.23],[1,0.035,0.0007,0.1],[2,0.039,0.0007,0.1]];
const pts_R4_ba3 = [[4,0.023,0.0035,0.09]];
const pts_R4_ba12 = [];

// ---------------- Region 5 ----------------
const fit_R5_ba1 = [0.84,0.92,0.9,0.68,0.40,0.169,0.057,0.023,0.011,0.0054,0.0024,0.0011,0.0006,0.0003,0.00015,0.0001,0.00007];
const fit_R5_ba2 = [0.0024,0.015,0.092,0.31,0.6,0.79,0.92,0.97,0.97,0.9,0.6,0.31,0.133,0.045,0.0117,0.0033,0.001];
const fit_R5_ba5 = [0.00001,0.00001,0.00001,0.00001,0.00001,0.00001,0.0001,0.0013,0.0082,0.073,0.31,0.57,0.68,0.73,0.75,0.68,0.57];
const fit_R5_ba4 = [0.00001,0.00001,0.00001,0.00001,0.00001,0.00001,0.0001,0.0007,0.004,0.018,0.038,0.049,0.05,0.046,0.04,0.033,0.026];
const fit_R5_others = [0.0049,0.0062,0.0068,0.0066,0.0057,0.0049,0.0048,0.006,0.0104,0.019,0.039,0.064,0.098,0.141,0.216,0.29,0.40];
const fit_R5_delta = [0.2,0.05,0.0096,0.0024,0.0007,0.0002,0.0001,0.0001,0.0001,0.0001,0.0001,0.0002,0.00078,0.0016,0.0035,0.0063,0.0126];
const rib_R5_alpha = [[0,1],[105,1],[211,1]];
const rib_R5_ba12 = [[31,0.002],[45,0.005],[59,0.01],[74,0.019],[90,0.026],[105,0.028],[120,0.024],[135,0.016],[151,0.0086],[166,0.0048],[181,0.0029],[196,0.0017],[212,0.0011]];
const rib_R5_ba3 = [[15,0.0008],[31,0.0016],[45,0.0019],[59,0.0019],[74,0.0018],[90,0.0016],[105,0.0014],[120,0.0013],[135,0.0013],[151,0.0012],[166,0.0011],[181,0.0009],[196,0.0008]];
const line_R5_ba3 = [];
const line_R5_ba12 = [];
const pts_R5_ba1 = [[0,0.84,0.79,0.89],[1,0.9,0.85,0.95],[2,0.92,0.87,0.97],[3,0.87,0.82,0.92],[4,0.9,0.85,0.95],[5,0.79,0.73,0.85],[6,0.62,0.55,0.69],[7,0.55,0.48,0.62],[8,0.35,0.29,0.42],[9,0.216,0.15,0.3],[10,0.18,0.13,0.23],[11,0.084,0.06,0.12],[12,0.062,0.032,0.11],[14,0.0154,0.0035,0.05],[15,0.029,0.003,0.11]];
const pts_R5_ba2 = [[1,0.006,0.0007,0.016],[2,0.019,0.01,0.03],[3,0.098,0.08,0.12],[4,0.09,0.07,0.12],[5,0.21,0.17,0.25],[6,0.34,0.29,0.39],[7,0.45,0.4,0.5],[8,0.62,0.57,0.67],[9,0.79,0.75,0.83],[10,0.82,0.78,0.86],[11,0.9,0.86,0.94],[12,0.94,0.9,0.98],[13,0.98,0.94,1],[14,0.98,0.94,1],[15,0.98,0.94,1],[16,0.98,0.94,1],[17,1,0.95,1],[18,0.95,0.9,0.99],[19,0.68,0.6,0.75],[20,0.68,0.6,0.75],[21,0.49,0.4,0.55],[22,0.47,0.38,0.55],[23,0.29,0.22,0.38],[24,0.19,0.13,0.26],[25,0.13,0.08,0.19],[26,0.098,0.05,0.15],[27,0.049,0.02,0.09],[28,0.018,0.005,0.04],[29,0.028,0.01,0.05]];
const pts_R5_ba5 = [[18,0.0275,0.0025,0.09],[19,0.25,0.17,0.35],[20,0.24,0.17,0.32],[21,0.42,0.35,0.5],[22,0.37,0.28,0.45],[23,0.6,0.53,0.67],[24,0.6,0.53,0.67],[25,0.62,0.55,0.69],[26,0.7,0.64,0.76],[27,0.77,0.71,0.83],[28,0.84,0.78,0.9],[29,0.82,0.76,0.88],[30,0.75,0.0007,0.85]];
const pts_R5_ba4 = [[13,0.006,0.0007,0.07],[16,0.0129,0.0007,0.07],[18,0.018,0.0007,0.1],[19,0.039,0.003,0.15],[20,0.0129,0.0007,0.05],[21,0.066,0.03,0.12],[22,0.05,0.015,0.1],[23,0.0275,0.005,0.06],[24,0.073,0.035,0.11],[25,0.095,0.055,0.14],[26,0.057,0.025,0.09],[27,0.016,0.0025,0.06],[28,0.009,0.0007,0.03],[29,0.0216,0.005,0.07],[30,0.05,0.0007,0.07]];
const pts_R5_others = [[1,0.01,0.0035,0.03],[2,0.0018,0.0007,0.011],[5,0.0042,0.0007,0.012],[6,0.0016,0.0007,0.006],[7,0.0035,0.0007,0.009],[8,0.0095,0.0007,0.024],[9,0.0052,0.0007,0.022],[10,0.0129,0.003,0.022],[11,0.0079,0.0007,0.02],[18,0.009,0.0007,0.06],[19,0.027,0.004,0.06],[20,0.052,0.0007,0.12],[21,0.047,0.0085,0.1],[22,0.111,0.01,0.15],[23,0.082,0.05,0.11],[24,0.122,0.08,0.16],[25,0.141,0.1,0.18],[26,0.155,0.1,0.19],[27,0.155,0.1,0.19],[28,0.137,0.09,0.18],[29,0.133,0.09,0.17],[30,0.2,0.0007,0.38]];
const pts_R5_delta = [[0,0.141,0.12,0.16],[1,0.082,0.05,0.11],[2,0.038,0.013,0.065],[3,0.009,0.0025,0.025],[4,0.009,0.0025,0.025],[11,0.002,0.0007,0.02],[22,0.01,0.0007,0.012],[29,0.007,0.0007,0.009]];
const pts_R5_ba3 = [[8,0.0047,0.0007,0.0062]];
const pts_R5_ba12 = [];

// ---------------- Region 6 ----------------
const fit_R6_ba1 = [0.9,0.95,0.87,0.64,0.47,0.229,0.092,0.035,0.014,0.0057,0.0023,0.00086,0.0004,0.0002,0.0001,0.00007,0.00005];
const fit_R6_ba2 = [0.0018,0.011,0.082,0.31,0.57,0.82,0.92,0.98,0.98,0.84,0.57,0.29,0.118,0.039,0.011,0.0031,0.00092];
const fit_R6_ba5 = [0.00001,0.00001,0.00001,0.00001,0.00001,0.00001,0.0001,0.0013,0.006,0.05,0.275,0.57,0.7,0.75,0.72,0.66,0.57];
const fit_R6_ba4 = [0.00001,0.00001,0.00001,0.00001,0.00001,0.00001,0.0001,0.0012,0.005,0.02,0.04,0.052,0.05,0.045,0.037,0.03,0.024];
const fit_R6_others = [0.0042,0.005,0.0057,0.0059,0.0055,0.005,0.0052,0.0068,0.0125,0.026,0.048,0.073,0.11,0.16,0.216,0.29,0.40];
const fit_R6_delta = [0.19,0.045,0.009,0.0018,0.0007,0.0002,0.0001,0.0001,0.0001,0.0001,0.0001,0.0001,0.0003,0.0008,0.0022,0.005,0.0105];
const rib_R6_alpha = [];
const rib_R6_ba12 = [[45,0.0025],[59,0.005],[74,0.009],[90,0.012],[105,0.0125],[120,0.012],[135,0.011],[151,0.0095],[166,0.008],[181,0.0068],[196,0.0058],[212,0.005],[227,0.004],[242,0.0032]];
const rib_R6_ba3 = [[0,0.0017],[15,0.0027],[31,0.0036],[45,0.0045],[59,0.0055],[74,0.0058],[90,0.0058],[105,0.005],[120,0.0043],[135,0.003],[151,0.0015],[166,0.0008]];
const line_R6_ba3 = [[15,0.0008],[31,0.0017],[45,0.0025],[59,0.0026],[74,0.0023],[90,0.002],[105,0.0017],[120,0.0015],[135,0.0013],[151,0.0008]];
const line_R6_ba12 = [[59,0.0008],[74,0.0025],[90,0.0029],[105,0.0029],[120,0.0021],[135,0.0017],[151,0.0011],[166,0.0006]];
const pts_R6_ba1 = [[0,0.9,0.85,0.95],[1,0.95,0.9,1],[2,0.95,0.9,1],[3,0.95,0.9,1],[4,0.95,0.9,1],[5,0.9,0.85,0.95],[6,0.68,0.62,0.74],[7,0.57,0.5,0.64],[8,0.55,0.45,0.63],[9,0.41,0.3,0.5],[10,0.21,0.15,0.28],[11,0.111,0.06,0.2],[12,0.092,0.04,0.15],[18,0.037,0.0007,0.1],[20,0.0108,0.0007,0.05],[21,0.046,0.0007,0.1]];
const pts_R6_ba2 = [[2,0.021,0.004,0.07],[3,0.028,0.005,0.08],[4,0.08,0.03,0.13],[5,0.125,0.07,0.18],[6,0.34,0.28,0.4],[7,0.45,0.38,0.52],[8,0.49,0.42,0.56],[9,0.59,0.52,0.66],[10,0.82,0.76,0.88],[11,0.9,0.85,0.95],[12,0.9,0.85,0.95],[13,0.87,0.5,0.92],[14,0.95,0.9,1],[15,0.66,0.55,0.75],[16,0.98,0.93,1],[17,0.98,0.93,1],[18,0.75,0.68,0.82],[19,0.84,0.78,0.9],[20,0.68,0.6,0.76],[21,0.55,0.47,0.63],[23,0.32,0.15,0.45],[24,0.18,0.09,0.27],[25,0.125,0.06,0.2],[26,0.098,0.03,0.16],[29,0.047,0.03,0.08]];
const pts_R6_ba5 = [[18,0.18,0.08,0.3],[19,0.15,0.06,0.25],[20,0.25,0.15,0.36],[21,0.31,0.22,0.4],[22,0.42,0.3,0.52],[23,0.6,0.5,0.68],[24,0.64,0.55,0.72],[25,0.75,0.68,0.82],[26,0.59,0.5,0.68],[27,0.79,0.72,0.86],[28,0.64,0.55,0.72],[29,0.84,0.77,0.9],[30,0.6,0.0007,0.85]];
const pts_R6_ba4 = [[18,0.018,0.0007,0.32],[19,0.021,0.0007,0.21],[20,0.032,0.0007,0.1],[21,0.068,0.025,0.22],[22,0.105,0.035,0.2],[23,0.022,0.0007,0.1],[24,0.045,0.0045,0.1],[25,0.04,0.0035,0.1],[26,0.13,0.03,0.2],[27,0.028,0.0007,0.1],[28,0.041,0.004,0.1],[29,0.032,0.002,0.06]];
const pts_R6_others = [[0,0.005,0.0007,0.035],[1,0.0087,0.0007,0.12],[8,0.0064,0.0007,0.035],[9,0.0133,0.0007,0.06],[11,0.0063,0.0007,0.09],[14,0.059,0.0015,0.22],[15,0.22,0.015,0.85],[17,0.03,0.0008,0.2],[20,0.045,0.0007,0.12],[21,0.023,0.004,0.1],[22,0.062,0.012,0.14],[23,0.043,0.0007,0.13],[24,0.133,0.04,0.2],[25,0.101,0.004,0.16],[26,0.18,0.04,0.3],[27,0.175,0.0007,0.3],[28,0.31,0.13,0.6],[29,0.095,0.015,0.25],[30,0.2,0.0007,0.5]];
const pts_R6_delta = [[0,0.098,0.06,0.2],[1,0.07,0.0007,0.12],[3,0.024,0.005,0.05],[5,0.0064,0.0007,0.04]];
const pts_R6_ba3 = [[12,0.0115,0.0007,0.08],[13,0.125,0.004,0.7],[15,0.111,0.002,0.5],[16,0.029,0.0007,0.17]];
const pts_R6_ba12 = [[11,0.012,0.0007,0.05]];

// ---------------- assemble lookup ----------------
const bandREG = {ba1:band_REG_ba1,ba2:band_REG_ba2,ba5:band_REG_ba5,ba4:band_REG_ba4,others:band_REG_others,delta:band_REG_delta};
const DATA = {
 CH:{fit:{ba1:fit_CH_ba1,ba2:fit_CH_ba2,ba5:fit_CH_ba5,ba4:fit_CH_ba4,others:fit_CH_others,delta:fit_CH_delta},
     band:{ba1:band_CH_ba1,ba2:band_CH_ba2,ba5:band_CH_ba5,ba4:band_CH_ba4,others:band_CH_others,delta:band_CH_delta},
     rib:{alpha:rib_CH_alpha,ba3:rib_CH_ba3,ba12:rib_CH_ba12}, line:{ba3:line_CH_ba3,ba12:line_CH_ba12},
     pts:{delta:pts_CH_delta,ba1:pts_CH_ba1,ba2:pts_CH_ba2,ba3:pts_CH_ba3,ba4:pts_CH_ba4,ba5:pts_CH_ba5,ba12:pts_CH_ba12,others:pts_CH_others}},
 R1:{fit:{ba1:fit_R1_ba1,ba2:fit_R1_ba2,ba5:fit_R1_ba5,ba4:fit_R1_ba4,others:fit_R1_others,delta:fit_R1_delta}, band:bandREG,
     rib:{alpha:rib_R1_alpha,ba3:rib_R1_ba3,ba12:rib_R1_ba12}, line:{ba3:line_R1_ba3,ba12:line_R1_ba12},
     pts:{delta:pts_R1_delta,ba1:pts_R1_ba1,ba2:pts_R1_ba2,ba3:pts_R1_ba3,ba4:pts_R1_ba4,ba5:pts_R1_ba5,ba12:pts_R1_ba12,others:pts_R1_others}},
 R2:{fit:{ba1:fit_R2_ba1,ba2:fit_R2_ba2,ba5:fit_R2_ba5,ba4:fit_R2_ba4,others:fit_R2_others,delta:fit_R2_delta}, band:bandREG,
     rib:{alpha:rib_R2_alpha,ba3:rib_R2_ba3,ba12:rib_R2_ba12}, line:{ba3:line_R2_ba3,ba12:line_R2_ba12},
     pts:{delta:pts_R2_delta,ba1:pts_R2_ba1,ba2:pts_R2_ba2,ba3:pts_R2_ba3,ba4:pts_R2_ba4,ba5:pts_R2_ba5,ba12:pts_R2_ba12,others:pts_R2_others}},
 R3:{fit:{ba1:fit_R3_ba1,ba2:fit_R3_ba2,ba5:fit_R3_ba5,ba4:fit_R3_ba4,others:fit_R3_others,delta:fit_R3_delta}, band:bandREG,
     rib:{alpha:rib_R3_alpha,ba3:rib_R3_ba3,ba12:rib_R3_ba12}, line:{ba3:line_R3_ba3,ba12:line_R3_ba12},
     pts:{delta:pts_R3_delta,ba1:pts_R3_ba1,ba2:pts_R3_ba2,ba3:pts_R3_ba3,ba4:pts_R3_ba4,ba5:pts_R3_ba5,ba12:pts_R3_ba12,others:pts_R3_others}},
 R4:{fit:{ba1:fit_R4_ba1,ba2:fit_R4_ba2,ba5:fit_R4_ba5,ba4:fit_R4_ba4,others:fit_R4_others,delta:fit_R4_delta}, band:bandREG,
     rib:{alpha:rib_R4_alpha,ba3:rib_R4_ba3,ba12:rib_R4_ba12}, line:{ba3:line_R4_ba3,ba12:line_R4_ba12},
     pts:{delta:pts_R4_delta,ba1:pts_R4_ba1,ba2:pts_R4_ba2,ba3:pts_R4_ba3,ba4:pts_R4_ba4,ba5:pts_R4_ba5,ba12:pts_R4_ba12,others:pts_R4_others}},
 R5:{fit:{ba1:fit_R5_ba1,ba2:fit_R5_ba2,ba5:fit_R5_ba5,ba4:fit_R5_ba4,others:fit_R5_others,delta:fit_R5_delta}, band:bandREG,
     rib:{alpha:rib_R5_alpha,ba3:rib_R5_ba3,ba12:rib_R5_ba12}, line:{ba3:line_R5_ba3,ba12:line_R5_ba12},
     pts:{delta:pts_R5_delta,ba1:pts_R5_ba1,ba2:pts_R5_ba2,ba3:pts_R5_ba3,ba4:pts_R5_ba4,ba5:pts_R5_ba5,ba12:pts_R5_ba12,others:pts_R5_others}},
 R6:{fit:{ba1:fit_R6_ba1,ba2:fit_R6_ba2,ba5:fit_R6_ba5,ba4:fit_R6_ba4,others:fit_R6_others,delta:fit_R6_delta}, band:bandREG,
     rib:{alpha:rib_R6_alpha,ba3:rib_R6_ba3,ba12:rib_R6_ba12}, line:{ba3:line_R6_ba3,ba12:line_R6_ba12},
     pts:{delta:pts_R6_delta,ba1:pts_R6_ba1,ba2:pts_R6_ba2,ba3:pts_R6_ba3,ba4:pts_R6_ba4,ba5:pts_R6_ba5,ba12:pts_R6_ba12,others:pts_R6_others}}
};

// ---------------- drawing ----------------
const S = 4096/6000;
const svg = d3.select("body").append("svg").attr("width",4096).attr("height",1229);
const defs = svg.append("defs");
const root = svg.append("g").attr("transform",`scale(${S})`);
const colorOf = {}; variantKeys.forEach((k,i)=>colorOf[k]=variantColors[i]);
const xDomain = [-12.1, 254.1];
const yDomain = [Math.pow(10,-3.15), Math.pow(10,0.15)];
const floorVal = 1e-5;

function addClip(id, x0, y0, x1, y1){
  defs.append("clipPath").attr("id",id).append("rect").attr("x",x0).attr("y",y0).attr("width",x1-x0).attr("height",y1-y0);
  return `url(#${id})`;
}

function drawFits(c, D, x, y, colorFn){
  const area = d3.area().x(d=>x(d[0])).y0(d=>y(d[1])).y1(d=>y(d[2])).curve(d3.curveMonotoneX);
  const line = d3.line().x(d=>x(d[0])).y(d=>y(d[1])).curve(d3.curveMonotoneX);
  variantKeys.forEach(k=>{
    if (D.fit[k]) {
      const rows = fitDays.map((d,i)=>[d, D.fit[k][i]/D.band[k][i], D.fit[k][i]*D.band[k][i]]);
      c.append("path").attr("d",area(rows)).attr("fill",colorFn(k)).attr("fill-opacity",0.4);
    }
    if (D.rib[k] && D.rib[k].length) {
      const rows = D.rib[k].map(r=>[r[0], floorVal, r[1]]);
      c.append("path").attr("d",area(rows)).attr("fill",colorFn(k)).attr("fill-opacity",0.4);
    }
  });
  variantKeys.forEach(k=>{
    if (D.fit[k]) c.append("path").attr("d",line(fitDays.map((d,i)=>[d,D.fit[k][i]]))).attr("fill","none").attr("stroke",colorFn(k)).attr("stroke-width",4);
    if (D.line[k] && D.line[k].length) c.append("path").attr("d",line(D.line[k])).attr("fill","none").attr("stroke",colorFn(k)).attr("stroke-width",4);
  });
}

function drawPanel(idx, box, opt){
  const id = panelIds[idx], D = DATA[id];
  const x = d3.scaleLinear().domain(xDomain).range([box.x0, box.x1]);
  const y = d3.scaleLog().domain(yDomain).range([box.y1, box.y0]);
  const g = root.append("g");
  const grid = g.append("g").attr("stroke","#ebebeb");
  yMinorExps.forEach(e=>grid.append("line").attr("x1",box.x0).attr("x2",box.x1).attr("y1",y(Math.pow(10,e))).attr("y2",y(Math.pow(10,e))).attr("stroke-width",2.5));
  xMinorDays.forEach(d=>grid.append("line").attr("x1",x(d)).attr("x2",x(d)).attr("y1",box.y0).attr("y2",box.y1).attr("stroke-width",2.5));
  yTickExps.forEach(e=>grid.append("line").attr("x1",box.x0).attr("x2",box.x1).attr("y1",y(Math.pow(10,e))).attr("y2",y(Math.pow(10,e))).attr("stroke-width",4.5));
  xTickDays.forEach(d=>grid.append("line").attr("x1",x(d)).attr("x2",x(d)).attr("y1",box.y0).attr("y2",box.y1).attr("stroke-width",4.5));

  const xf = x(futureDays[0]);
  const c = g.append("g").attr("clip-path", addClip("clip-"+id, box.x0, box.y0, box.x1, box.y1));
  if (opt.main) {
    c.append("rect").attr("x",xf).attr("width",x(futureDays[1])-xf).attr("y",y(1)).attr("height",box.y1-y(1)).attr("fill","#f0f0f0");
    drawFits(c, D, x, y, k=>colorOf[k]);
  } else {
    const past = g.append("g").attr("clip-path", addClip("clipP-"+id, box.x0, box.y0, xf, box.y1));
    const fut = g.append("g").attr("clip-path", addClip("clipF-"+id, xf, box.y0, box.x1, box.y1));
    drawFits(past, D, x, y, k=>colorOf[k]);
    drawFits(fut, D, x, y, k=>futureColor);
  }
  const cp = g.append("g").attr("clip-path", `url(#clip-${id})`);
  // point ranges
  const r = opt.main ? 9 : 8;
  variantKeys.forEach(k=>{
    const P = D.pts[k]; if (!P) return;
    const gp = cp.append("g").attr("fill",colorOf[k]).attr("stroke",colorOf[k]);
    P.forEach(p=>{
      const day = firstWeekDay + 7*p[0], px = x(day);
      const op = (!opt.main && day >= futureDays[0]) ? 0.55 : 1;
      gp.append("line").attr("x1",px).attr("x2",px).attr("y1",y(p[2])).attr("y2",y(p[3])).attr("stroke-width",4.5).attr("stroke-opacity",op);
      gp.append("circle").attr("cx",px).attr("cy",y(p[1])).attr("r",r).attr("stroke","none").attr("fill-opacity",op);
    });
  });
  if (opt.main) {
    cp.append("rect").attr("x",xf).attr("width",x(futureDays[1])-xf)
      .attr("y",box.y0).attr("height",box.y1-box.y0).attr("fill","#ffffff").attr("fill-opacity",0.3);
  }

  // axis labels
  if (opt.yLabels) {
    yTickExps.forEach((e,i)=>{
      const t = g.append("text").attr("x",box.x0-22).attr("y",y(Math.pow(10,e))+13).attr("text-anchor","end").attr("fill","#4d4d4d").attr("font-size",35);
      t.append("tspan").text("10");
      t.append("tspan").attr("dy",-15).attr("font-size",25).text(yTickLabels[i]);
    });
  }
  if (opt.xLabels) {
    xTickDays.forEach((d,i)=>g.append("text").attr("x",x(d)).attr("y",box.y1+50).attr("text-anchor","middle").attr("fill","#4d4d4d").attr("font-size",35).text(xTickLabels[i]));
  }
  g.append("text").attr("x",(box.x0+box.x1)/2).attr("y",opt.main?101:box.y0-18).attr("text-anchor","middle").attr("fill","#1a1a1a").attr("font-size",opt.main?41:35).text(panelTitles[idx]);
}

// main panel
drawPanel(0, {x0:161, x1:1978, y0:131, y1:1671}, {main:true, xLabels:true, yLabels:true});
// region panels
const colX0 = [2162.3, 3081.7], panelW = 896, rowTop = 139.3, rowH = 446.8, rowStep = 542.2;
for (let i=1;i<=6;i++){
  const col = (i-1)%2, row = Math.floor((i-1)/2);
  drawPanel(i, {x0:colX0[col], x1:colX0[col]+panelW, y0:rowTop+row*rowStep, y1:rowTop+row*rowStep+rowH},
    {main:false, xLabels:row===2, yLabels:col===0});
}

// y-axis titles
[[53,901],[2053,905]].forEach(p=>{
  root.append("text").attr("transform",`translate(${p[0]},${p[1]}) rotate(-90)`).attr("text-anchor","middle")
    .attr("font-size",42).attr("fill","#000").text(yAxisTitle);
});

// legend
const lg = root.append("g");
lg.append("text").attr("x",4766).attr("y",581).attr("font-size",42).attr("fill","#000").text(legendTitle);
variants.forEach((v,i)=>{
  const ky = 610 + 71.9*i, k = variantKeys[i];
  lg.append("rect").attr("x",4768).attr("y",ky).attr("width",66).attr("height",65).attr("fill",colorOf[k]).attr("fill-opacity",0.4);
  lg.append("line").attr("x1",4771).attr("x2",4831).attr("y1",ky+32.5).attr("y2",ky+32.5).attr("stroke",colorOf[k]).attr("stroke-width",4.5);
  lg.append("circle").attr("cx",4801).attr("cy",ky+32.5).attr("r",8.5).attr("fill",colorOf[k]);
  lg.append("text").attr("x",4858).attr("y",ky+32.5+13).attr("font-size",36).attr("fill","#000").text(v);
});
</script>
</body></html>
